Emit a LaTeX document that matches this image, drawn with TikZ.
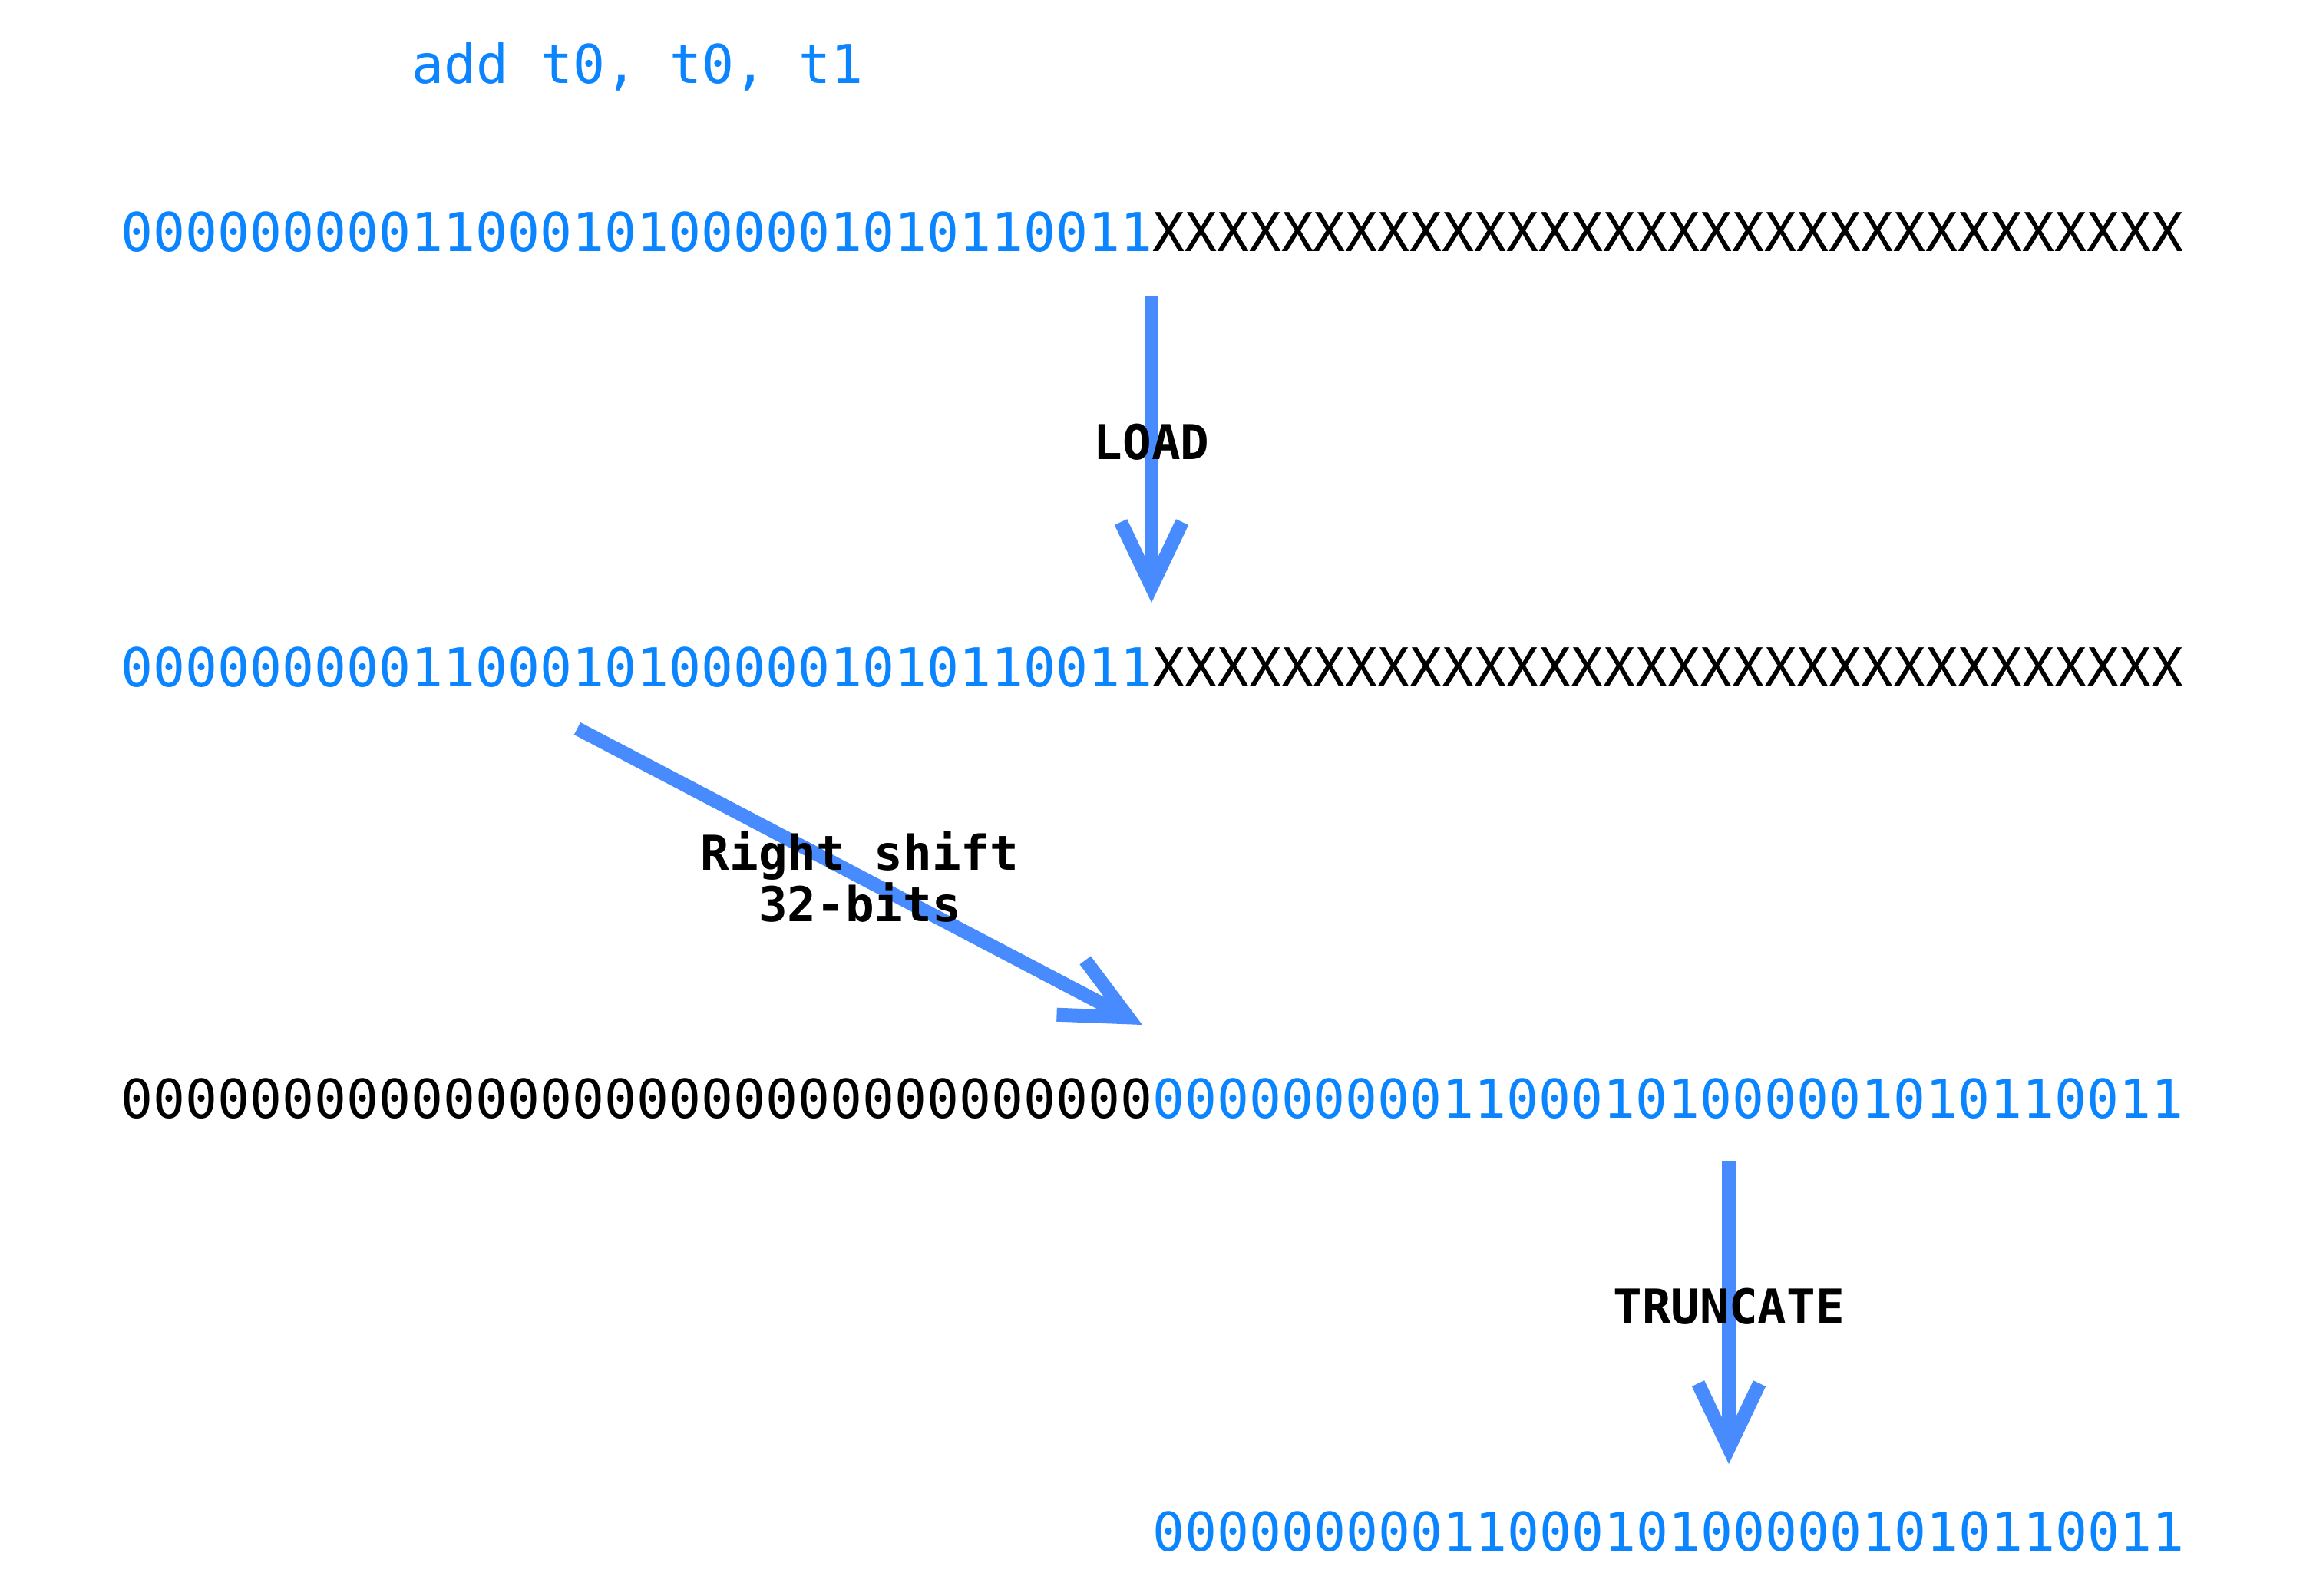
\documentclass[tikz,border=0pt]{standalone}
\usepackage{fontspec}
\setmonofont{DejaVu Sans Mono}
\usetikzlibrary{arrows.meta}
\definecolor{bitblue}{HTML}{0A84FF}
\definecolor{arrowblue}{HTML}{478BFF}
\newcommand{\hibits}{00000000011000101000001010110011}
\newcommand{\xbits}{XXXXXXXXXXXXXXXXXXXXXXXXXXXXXXXX}
\newcommand{\lobits}{00000000000000000000000000000000}
\tikzset{
  bits/.style={anchor=west, inner sep=0pt, font=\ttfamily\fontsize{19.84}{24}\selectfont},
  opname/.style={inner sep=0pt, align=center, text=black,
    font=\ttfamily\bfseries\fontsize{17.8}{16.8}\selectfont},
  shiftarrow/.style={draw=arrowblue, line width=0.18cm,
    -{Straight Barb[length=0.84cm, width=0.8cm]}}
}
\begin{document}
\begin{tikzpicture}
	\useasboundingbox (0,0) rectangle (30,-20.78);
	\node[bits, anchor=base west, text=bitblue] (ins) at (5.36,-1.08) {add t0, t0, t1};
	\node[bits] (r1) at (1.57,-3.02) {\textcolor{bitblue}{\hibits}\xbits};
	\node[bits] (r2) at (1.57,-8.69) {\textcolor{bitblue}{\hibits}\xbits};
	\node[bits] (r3) at (1.57,-14.31) {\lobits\textcolor{bitblue}{\hibits}};
	\node[bits, text=bitblue] (r4) at (15.01,-19.95) {\hibits};
	\coordinate (a0) at (15.00,-3.86);
	\coordinate (a1) at (15.00,-7.85);
	\coordinate (b0) at (7.52,-9.49);
	\coordinate (b1) at (14.88,-13.35);
	\coordinate (c0) at (22.52,-15.13);
	\coordinate (c1) at (22.52,-19.07);
	\draw[shiftarrow] (a0) -- (a1) node[pos=0.475, opname] (ld) {LOAD};
	\draw[shiftarrow] (b0) -- (b1) node[midway, opname] (rs) {Right shift\\32-bits};
	\draw[shiftarrow] (c0) -- (c1) node[pos=0.48, opname] (tr) {TRUNCATE};
\end{tikzpicture}
\end{document}
